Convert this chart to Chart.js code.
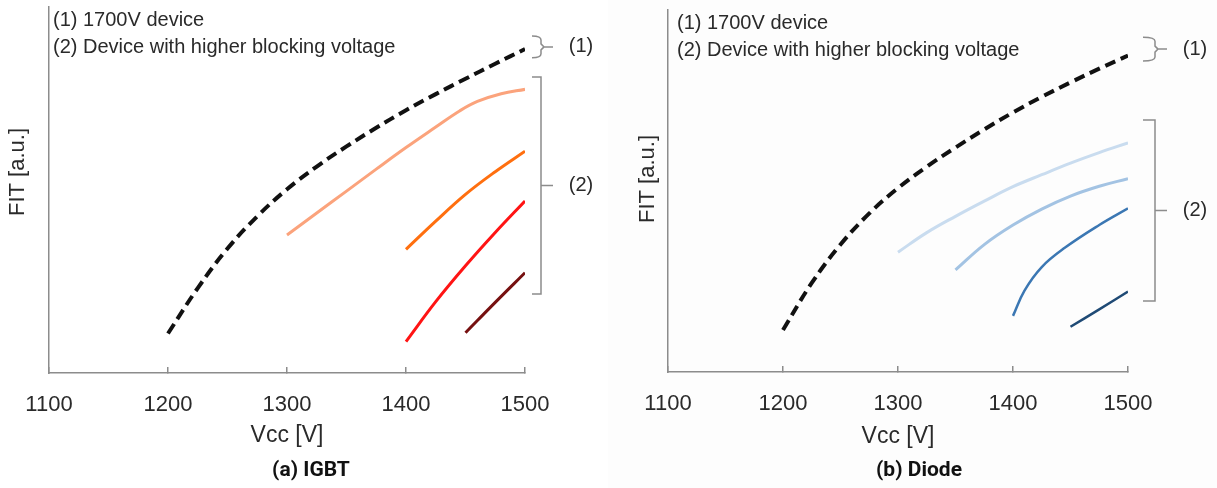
<!DOCTYPE html>
<html>
<head>
<meta charset="utf-8">
<script src="https://cdn.jsdelivr.net/npm/chart.js@4.4.1/dist/chart.umd.min.js"></script>
<style>
  body { margin: 0; width: 1217px; height: 488px; position: relative; overflow: hidden; background: #fff; }
  .panel { position: absolute; top: 0; height: 488px; }
  #left { left: 0; width: 608px; }
  #right { left: 608px; width: 609px; background: #fdfdfd; }
  .caption {
    position: absolute; top: 457px; transform: translateX(-50%); white-space: nowrap;
    font-family: "Liberation Sans Narrow", Roboto, sans-serif; font-weight: bold; font-size: 21px; color: #111;
  }
</style>
</head>
<body>
<div class="panel" id="left"><canvas id="igbtChart" width="608" height="488"></canvas></div>
<div class="panel" id="right"><canvas id="diodeChart" width="609" height="488"></canvas></div>
<div class="caption" style="left:311px">(a) IGBT</div>
<div class="caption" style="left:919px">(b) Diode</div>

<script>
const vccMin = 1100;
const vccMax = 1500;
const legendLines = ["(1) 1700V device", "(2) Device with higher blocking voltage"];

// (a) IGBT
const igbtRefVcc = [1200, 1225, 1250, 1275, 1300, 1325, 1350, 1375, 1400, 1425, 1450, 1475, 1500];
const igbtRefFit = [10.8, 23.2, 34.0, 42.8, 50.2, 56.4, 61.9, 67.0, 71.8, 76.2, 80.4, 84.5, 88.5];
const igbt1Vcc = [1300, 1325, 1350, 1375, 1400, 1425, 1445, 1460, 1480, 1500];
const igbt1Fit = [37.7, 43.7, 49.7, 55.7, 61.6, 67.2, 71.6, 74.2, 76.3, 77.5];
const igbt2Vcc = [1400, 1425, 1450, 1475, 1500];
const igbt2Fit = [33.8, 41.5, 48.8, 55.0, 60.6];
const igbt3Vcc = [1400, 1425, 1450, 1475, 1500];
const igbt3Fit = [8.6, 19.5, 29.3, 38.4, 47.0];
const igbt4Vcc = [1450, 1475, 1500];
const igbt4Fit = [11.0, 19.3, 27.4];

// (b) Diode
const diodeRefVcc = [1200, 1225, 1250, 1275, 1300, 1325, 1350, 1375, 1400, 1425, 1450, 1475, 1500];
const diodeRefFit = [11.6, 24.6, 35.2, 43.8, 50.8, 56.7, 62.0, 67.0, 71.7, 76.0, 80.0, 83.8, 87.4];
const diode1Vcc = [1300, 1325, 1350, 1375, 1400, 1425, 1450, 1475, 1500];
const diode1Fit = [33.1, 38.5, 43.0, 47.2, 51.2, 54.5, 57.7, 60.6, 63.3];
const diode2Vcc = [1350, 1375, 1400, 1425, 1450, 1475, 1500];
const diode2Fit = [28.2, 35.2, 40.6, 45.0, 48.6, 51.3, 53.4];
const diode3Vcc = [1400, 1410, 1425, 1445, 1475, 1500];
const diode3Fit = [15.5, 22.5, 29.0, 34.3, 40.6, 45.2];
const diode4Vcc = [1450, 1475, 1500];
const diode4Fit = [12.5, 17.3, 22.2];

const TEXT = "#2a2a2a";
const AXIS = "#8c8c8c";
const SANS = "'Liberation Sans', Arial, sans-serif";

function pts(xs, ys) {
  return xs.map((x, i) => ({ x: x, y: ys[i] }));
}

function line(xs, ys, color, width, dash) {
  return {
    data: pts(xs, ys),
    borderColor: color,
    borderWidth: width,
    borderDash: dash || [],
    pointRadius: 0,
    fill: false,
    tension: 0.4,
  };
}

// legend text, y title and the (1)/(2) brackets on the right
const notes = {
  id: "notes",
  afterDraw(chart, args, o) {
    const { ctx, chartArea: a, scales: { y } } = chart;
    ctx.save();
    ctx.fillStyle = TEXT;
    ctx.textBaseline = "middle";
    ctx.font = "20px " + SANS;
    ctx.textAlign = "left";
    legendLines.forEach((t, i) => ctx.fillText(t, a.left + o.legendDx, a.top + 13 + i * 27));

    ctx.save();
    ctx.translate(o.yTitleX, o.yTitleY);
    ctx.rotate(-Math.PI / 2);
    ctx.textAlign = "center";
    ctx.font = "22px " + SANS;
    ctx.fillText("FIT [a.u.]", 0, 0);
    ctx.restore();

    ctx.strokeStyle = AXIS;
    ctx.lineWidth = 1.5;
    ctx.textAlign = "center";
    o.brackets.forEach((b) => {
      const top = y.getPixelForValue(b.from);
      const bot = y.getPixelForValue(b.to);
      const mid = (top + bot) / 2;
      const x0 = a.right + o.bx;
      const x1 = x0 + o.bw;
      ctx.beginPath();
      if (b.curly) {
        ctx.moveTo(x0, top);
        ctx.quadraticCurveTo(x1, top, x1, top + 4);
        ctx.lineTo(x1, mid - 3);
        ctx.lineTo(x1 + 3, mid);
        ctx.lineTo(x1, mid + 3);
        ctx.lineTo(x1, bot - 4);
        ctx.quadraticCurveTo(x1, bot, x0, bot);
        ctx.moveTo(x1 + 3, mid);
      } else {
        ctx.moveTo(x0, top);
        ctx.lineTo(x1, top);
        ctx.lineTo(x1, bot);
        ctx.lineTo(x0, bot);
        ctx.moveTo(x1, mid);
      }
      ctx.lineTo(x1 + 12, mid);
      ctx.stroke();
      ctx.font = "20px " + SANS;
      ctx.fillText(b.label, x1 + 40, mid);
    });
    ctx.restore();
  },
};

function makeChart(id, datasets, p) {
  return new Chart(document.getElementById(id), {
    type: "line",
    data: { datasets: datasets },
    plugins: [notes],
    options: {
      responsive: false,
      animation: false,
      layout: { padding: { left: 0, right: p.padRight, top: p.padTop, bottom: 0 } },
      plugins: {
        legend: { display: false },
        tooltip: { enabled: false },
        notes: p.notes,
      },
      scales: {
        x: {
          type: "linear",
          min: vccMin,
          max: vccMax,
          afterFit: (s) => { s.height = p.xHeight; },
          ticks: {
            stepSize: 100,
            padding: 25,
            color: TEXT,
            font: { family: SANS, size: 22 },
            callback: (v) => String(v),
          },
          grid: { drawOnChartArea: false, drawTicks: true, tickLength: -6, color: AXIS, lineWidth: 1.5 },
          border: { display: true, color: AXIS, width: 1.5 },
          title: {
            display: true,
            text: "Vcc [V]",
            color: TEXT,
            font: { family: SANS, size: 23 },
            padding: { top: 0, bottom: p.titlePad },
          },
        },
        y: {
          min: 0,
          max: 100,
          afterFit: (s) => { s.width = p.yWidth; },
          ticks: { display: false },
          grid: { display: false },
          border: { display: true, color: AXIS, width: 1.5 },
        },
      },
    },
  });
}

makeChart("igbtChart", [
  line(igbtRefVcc, igbtRefFit, "#111111", 4, [11, 6]),
  line(igbt1Vcc, igbt1Fit, "#fba37c", 3),
  line(igbt2Vcc, igbt2Fit, "#ff6f0f", 3),
  line(igbt3Vcc, igbt3Fit, "#ff1414", 3),
  line(igbt4Vcc, igbt4Fit, "#761010", 3),
], {
  padRight: 83, padTop: 7, xHeight: 115, yWidth: 49, titlePad: 39,
  notes: {
    legendDx: 4, yTitleX: 18, yTitleY: 172, bx: 7, bw: 9,
    brackets: [
      { from: 92.1, to: 86.1, label: "(1)", curly: true },
      { from: 80.9, to: 21.6, label: "(2)", curly: false },
    ],
  },
});

makeChart("diodeChart", [
  line(diodeRefVcc, diodeRefFit, "#111111", 4, [11, 6]),
  line(diode1Vcc, diode1Fit, "#c9dcef", 3),
  line(diode2Vcc, diode2Fit, "#a3c3e3", 3),
  line(diode3Vcc, diode3Fit, "#3b77b3", 2.5),
  line(diode4Vcc, diode4Fit, "#1f4a75", 2.5),
], {
  padRight: 89, padTop: 10, xHeight: 116, yWidth: 60, titlePad: 38,
  notes: {
    legendDx: 9, yTitleX: 40, yTitleY: 179, bx: 15, bw: 12,
    brackets: [
      { from: 92.5, to: 85.9, label: "(1)", curly: true },
      { from: 69.6, to: 19.6, label: "(2)", curly: false },
    ],
  },
});
</script>
</body>
</html>
